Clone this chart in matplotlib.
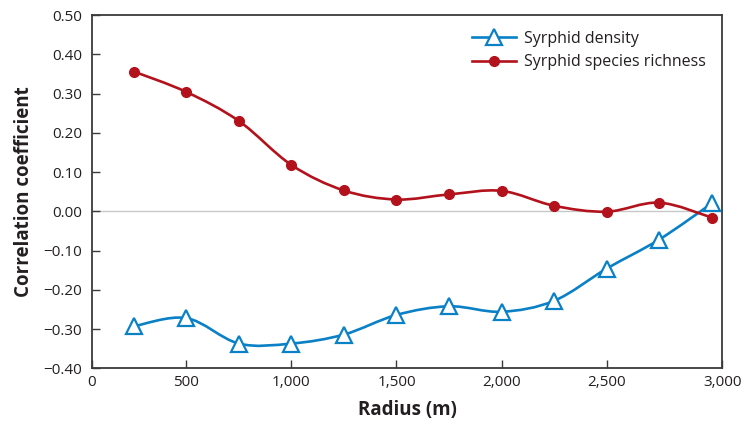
import numpy as np
import matplotlib
matplotlib.use('Agg')
import matplotlib.pyplot as plt
from matplotlib.path import Path
from matplotlib.patches import PathPatch
from matplotlib.lines import Line2D

plt.rcParams['font.family'] = ['Open Sans', 'DejaVu Sans']

radius = [250, 500, 750, 1000, 1250, 1500, 1750, 2000, 2250, 2500, 2750, 3000]
density = [-0.293, -0.272, -0.337, -0.337, -0.314, -0.264,
           -0.242, -0.256, -0.228, -0.146, -0.072, 0.020]
richness = [0.356, 0.304, 0.230, 0.118, 0.053, 0.030,
            0.043, 0.052, 0.014, -0.001, 0.022, -0.016]

x_ticks = [500, 1000, 1500, 2000, 2500]
x_tick_labels = ['500', '1,000', '1,500', '2,000', '2,500']
y_ticks = [-0.4, -0.3, -0.2, -0.1, 0.0, 0.1, 0.2, 0.3, 0.4, 0.5]

BLUE = '#0a80c6'
RED = '#b3121c'
SPINE = '#3a3a3a'


def smooth_path(xs, ys):
    """Catmull-Rom curve through the points, as cubic Bezier segments."""
    pts = np.column_stack([xs, ys]).astype(float)
    n = len(pts)
    verts = [pts[0]]
    codes = [Path.MOVETO]
    for i in range(n - 1):
        p0 = pts[max(i - 1, 0)]
        p1 = pts[i]
        p2 = pts[i + 1]
        p3 = pts[min(i + 2, n - 1)]
        c1 = p1 + (p2 - p0) / 6.0
        c2 = p2 - (p3 - p1) / 6.0
        verts += [c1, c2, p2]
        codes += [Path.CURVE4] * 3
    return Path(verts, codes)


fig = plt.figure(figsize=(7.44, 4.25), dpi=100)
ax = fig.add_axes([0.1233, 0.1334, 0.8475, 0.8313])

ax.axhline(0, color='#c8c8c8', lw=1.0, zorder=1)

ax.add_patch(PathPatch(smooth_path(radius, density), fill=False,
                       edgecolor=BLUE, lw=1.9, zorder=2))
ax.add_patch(PathPatch(smooth_path(radius, richness), fill=False,
                       edgecolor=RED, lw=1.9, zorder=2))
ax.plot(radius, density, linestyle='none', marker='^', markersize=11,
        markerfacecolor='white', markeredgecolor=BLUE, markeredgewidth=1.6, zorder=3)
ax.plot(radius, richness, linestyle='none', marker='o', markersize=7,
        markerfacecolor=RED, markeredgecolor=RED, zorder=3)

ax.set_xlim(50, 3050)
ax.set_ylim(-0.4, 0.5)
ax.set_xticks([50] + x_ticks + [3050])
ax.set_xticklabels(['0'] + x_tick_labels + ['3,000'])
ax.set_yticks(y_ticks)
ax.set_yticklabels([f'{v:.2f}'.replace('-', '\u2212') for v in y_ticks])

ax.tick_params(direction='in', length=6, width=1.0, color=SPINE,
               labelsize=11, labelcolor='#231f20')
ax.tick_params(axis='y', pad=7)
ax.tick_params(axis='x', pad=5)
for s in ax.spines.values():
    s.set_color(SPINE)
    s.set_linewidth(1.3)

ax.set_xlabel('Radius (m)', fontsize=13.5, fontweight='bold', color='#231f20', labelpad=7)
ax.set_ylabel('Correlation coefficient', fontsize=13.5, fontweight='bold',
              color='#231f20', labelpad=7)

handles = [
    Line2D([], [], color=BLUE, lw=1.9, marker='^', markersize=11,
           markerfacecolor='white', markeredgecolor=BLUE, markeredgewidth=1.6),
    Line2D([], [], color=RED, lw=1.9, marker='o', markersize=7,
           markerfacecolor=RED, markeredgecolor=RED),
]
ax.legend(handles, ['Syrphid density', 'Syrphid species richness'],
          loc='upper right', frameon=False, fontsize=11.5, handlelength=2.8,
          handletextpad=0.5, labelspacing=0.45, borderaxespad=0.6,
          labelcolor='#231f20')

fig.savefig('out.png', dpi=100)
